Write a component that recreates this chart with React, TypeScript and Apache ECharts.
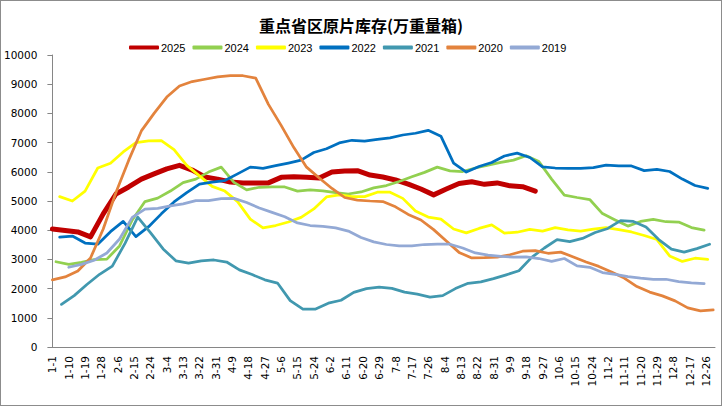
import React, { useEffect, useRef } from "react";
import * as echarts from "echarts";

const TITLE = "重点省区原片库存(万重量箱)";
const MONTH_DAYS = [31, 29, 31, 30, 31, 30, 31, 31, 30, 31, 30, 31];
const DAYS: string[] = MONTH_DAYS.flatMap((n, m) =>
  Array.from({ length: n }, (_, d) => `${m + 1}-${d + 1}`)
);

const SERIES_NAMES = ["2025", "2024", "2023", "2022", "2021", "2020", "2019"];
const SERIES_COLORS = ["#C00000", "#92D050", "#FFFF00", "#0070C0", "#4198AF", "#E3833D", "#93A9D5"];
// day index of the first weekly reading of each year
const START_DAY = [0, 2, 4, 4, 5, 0, 9];

const V2025 = [4040, 3990, 3940, 3770, 4560, 5240, 5480, 5750, 5930, 6100, 6220, 6060, 5820, 5750, 5650, 5620, 5620, 5620, 5810, 5830, 5810, 5790, 5990, 6030, 6040, 5890, 5820, 5720, 5580, 5410, 5210, 5410, 5600, 5660, 5570, 5620, 5520, 5490, 5340];
const V2024 = [2920, 2830, 2900, 2990, 3010, 3460, 4350, 4980, 5100, 5340, 5630, 5750, 5990, 6160, 5640, 5380, 5470, 5480, 5480, 5340, 5380, 5350, 5290, 5240, 5310, 5450, 5530, 5670, 5830, 5980, 6160, 6030, 6010, 6130, 6230, 6320, 6400, 6550, 6350, 5750, 5200, 5120, 5050, 4570, 4350, 4140, 4300, 4370, 4290, 4280, 4090, 4000];
const V2023 = [5150, 5000, 5340, 6130, 6290, 6680, 7000, 7060, 7070, 6760, 6220, 5860, 5500, 5340, 4980, 4380, 4080, 4160, 4280, 4440, 4730, 5140, 5210, 5150, 5150, 5300, 5300, 5090, 4660, 4450, 4380, 4040, 3910, 4060, 4180, 3900, 3930, 4030, 3970, 4090, 4010, 3970, 4040, 4090, 4020, 3940, 3820, 3680, 3120, 2930, 3040, 3000];
const V2022 = [3760, 3800, 3560, 3520, 3950, 4300, 3780, 4120, 4560, 4970, 5290, 5580, 5650, 5700, 5930, 6160, 6120, 6210, 6300, 6400, 6660, 6790, 6990, 7080, 7050, 7110, 7160, 7260, 7320, 7420, 7220, 6300, 5990, 6180, 6320, 6540, 6640, 6490, 6170, 6130, 6120, 6120, 6140, 6230, 6200, 6200, 6040, 6080, 6010, 5750, 5530, 5430];
const V2021 = [1460, 1760, 2140, 2490, 2770, 3550, 4450, 3920, 3360, 2950, 2870, 2950, 2980, 2910, 2640, 2480, 2300, 2190, 1590, 1300, 1300, 1500, 1600, 1870, 2000, 2050, 2010, 1880, 1810, 1710, 1760, 2000, 2180, 2230, 2340, 2470, 2610, 3070, 3390, 3680, 3610, 3720, 3920, 4060, 4330, 4300, 4110, 3680, 3350, 3250, 3370, 3520];
const V2020 = [2300, 2400, 2600, 3050, 4040, 5290, 6390, 7400, 8000, 8560, 8940, 9090, 9170, 9250, 9290, 9290, 9210, 8310, 7590, 6830, 6160, 5790, 5430, 5120, 5030, 5000, 4980, 4800, 4540, 4350, 4020, 3630, 3240, 3050, 3060, 3080, 3160, 3280, 3300, 3210, 3250, 3080, 2910, 2760, 2570, 2360, 2070, 1880, 1750, 1580, 1340, 1240, 1270];
const V2019 = [2730, 2830, 2970, 3220, 3700, 4440, 4720, 4750, 4830, 4900, 5010, 5010, 5080, 5090, 4950, 4760, 4610, 4460, 4250, 4160, 4130, 4080, 3970, 3750, 3600, 3510, 3460, 3460, 3510, 3520, 3520, 3390, 3220, 3150, 3100, 3080, 3090, 3030, 2930, 3030, 2780, 2730, 2550, 2490, 2410, 2360, 2320, 2320, 2240, 2200, 2170];

const VALUES = [V2025, V2024, V2023, V2022, V2021, V2020, V2019];
const Y_MIN = 0;
const Y_MAX = 10000;
const Y_STEP = 1000;

const FONT = "DejaVu Sans";

export default function App() {
  const ref = useRef<HTMLDivElement>(null);
  useEffect(() => {
    if (!ref.current) return;
    const chart = echarts.init(ref.current, undefined, { renderer: "svg" });
    const series = SERIES_NAMES.map((name, k) => ({
      name,
      type: "line",
      data: VALUES[k].map((v, i) => [START_DAY[k] + 7 * i, v]),
      symbol: "none",
      showSymbol: false,
      lineStyle: {
        color: SERIES_COLORS[k],
        width: k === 0 ? 5 : 2.75,
        cap: "round",
        join: "round",
      },
      itemStyle: { color: SERIES_COLORS[k] },
      emphasis: { disabled: true },
    }));
    chart.setOption({
      animation: false,
      backgroundColor: "#ffffff",
      title: {
        text: TITLE,
        left: "center",
        top: 11,
        textStyle: {
          fontFamily: "Noto Sans CJK SC",
          fontSize: 16,
          fontWeight: "bold",
          color: "#000000",
        },
      },
      legend: {
        data: SERIES_NAMES,
        left: 123,
        top: 36,
        icon: "roundRect",
        itemWidth: 30,
        itemHeight: 4,
        itemGap: 7,
        textStyle: { fontFamily: "Liberation Sans", fontSize: 11, color: "#000000", padding: [0, 0, 0, -3] },
      },
      grid: { left: 51, right: 6, top: 54, bottom: 58, containLabel: false },
      xAxis: {
        type: "category",
        data: DAYS,
        boundaryGap: false,
        axisLine: { show: true, lineStyle: { color: "#868686", width: 1 } },
        axisTick: { show: false },
        axisLabel: {
          interval: 8,
          rotate: 90,
          margin: 9,
          fontFamily: FONT,
          fontSize: 10.5,
          color: "#000000",
        },
        splitLine: { show: false },
      },
      yAxis: {
        type: "value",
        min: Y_MIN,
        max: Y_MAX,
        interval: Y_STEP,
        axisLine: { show: true, lineStyle: { color: "#868686", width: 1 } },
        axisTick: { show: true, inside: false, length: 5, lineStyle: { color: "#868686" } },
        axisLabel: {
          margin: 15,
          fontFamily: FONT,
          fontSize: 10.5,
          color: "#000000",
          formatter: (v: number) => String(v),
        },
        splitLine: { show: false },
      },
      series,
    });
    return () => chart.dispose();
  }, []);
  return (
    <div
      style={{
        position: "fixed",
        left: 0,
        top: 0,
        width: 722,
        height: 406,
        boxSizing: "border-box",
        border: "1px solid #8c8c8c",
        background: "#ffffff",
      }}
    >
      <div ref={ref} style={{ width: 720, height: 404 }} />
    </div>
  );
}
